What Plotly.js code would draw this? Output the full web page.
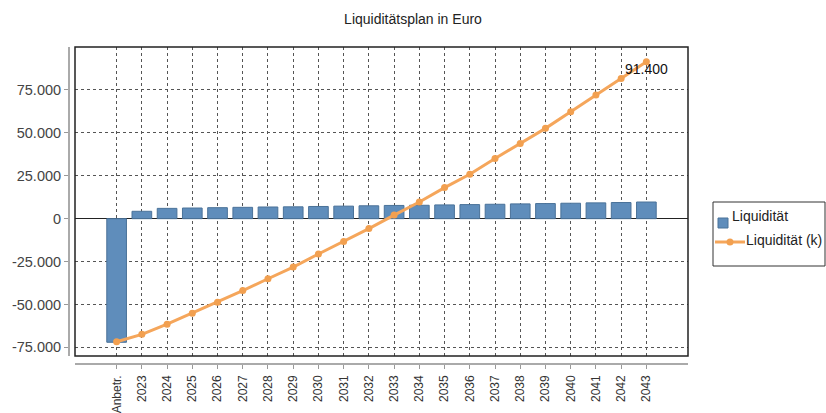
<!DOCTYPE html>
<html>
<head>
<meta charset="utf-8">
<script src="https://cdn.plot.ly/plotly-3.0.1.min.js"></script>
<style>html,body{margin:0;padding:0;background:#fff;}#chart{width:826px;height:413px;}</style>
</head>
<body>
<div id="chart"></div>
<script>
var categories = ["Anbetr.","2023","2024","2025","2026","2027","2028","2029","2030","2031","2032","2033","2034","2035","2036","2037","2038","2039","2040","2041","2042","2043"];
var liquiditaet = [-72000,4300,6000,6200,6400,6600,6800,6900,7100,7300,7500,7700,7800,8000,8200,8400,8600,8800,9000,9200,9400,9700];
var liquiditaetK = [-71700,-67400,-61500,-55100,-48700,-41900,-35000,-28200,-20600,-13300,-5800,2100,9700,18100,25900,35000,43800,52600,62300,72000,81700,91400];
var yTickVals = [-75000,-50000,-25000,0,25000,50000,75000];
var yTickText = ["-75.000","-50.000","-25.000","0","25.000","50.000","75.000"];
var seriesNames = ["Liquidität","Liquidität (k)"];
var lastLabel = "91.400";

var font = "Liberation Sans, Arial, sans-serif";
var barColor = "#5F8DBB", lineColor = "#F5A65B";
var xDom0 = (75-68)/620;
var yDom0 = (363-356)/316;
function px(x){ return (x-68)/620; }
function py(y){ return (363-y)/316; }

var traces = [
  {type:"bar", name:seriesNames[0], x:categories, y:liquiditaet, width:0.78,
   marker:{color:barColor, line:{color:"#4A7299", width:1}}},
  {type:"scatter", mode:"lines+markers", name:seriesNames[1], x:categories, y:liquiditaetK,
   line:{color:lineColor, width:3}, marker:{color:"#F2A050", size:7, symbol:"circle"}}
];

var layout = {
  width:826, height:413,
  margin:{l:68, r:138, t:47, b:50, autoexpand:false},
  paper_bgcolor:"#fff", plot_bgcolor:"#fff",
  showlegend:false,
  title:{text:"Liquiditätsplan in Euro", font:{family:font, size:14, color:"#222"}, x:0.5, xref:"container", y:1-19/413, yanchor:"middle"},
  xaxis:{type:"category", domain:[xDom0,1], anchor:"free", position:0,
    range:[-1.65,22.65], showline:true, linecolor:"#aaa", linewidth:1.5,
    ticks:"outside", ticklen:4, tickcolor:"#999", tickangle:-90, ticklabelstandoff:2,
    tickfont:{family:font, size:12, color:"#333"}, automargin:false,
    showgrid:true, gridcolor:"#555", griddash:"3px,3px", gridwidth:1, fixedrange:true},
  yaxis:{domain:[yDom0,1], anchor:"free", position:0, automargin:false,
    range:[-80000,100000], tickvals:yTickVals, ticktext:yTickText,
    showline:true, linecolor:"#aaa", linewidth:1.5,
    ticks:"outside", ticklen:4, tickcolor:"#999",
    tickfont:{family:font, size:14.5, color:"#444"},
    showgrid:true, gridcolor:"#555", griddash:"3px,3px", gridwidth:1,
    zeroline:true, zerolinecolor:"#222", zerolinewidth:1.2},
  shapes:[
    {type:"rect", xref:"paper", yref:"paper", x0:xDom0, x1:1, y0:yDom0, y1:1,
     line:{color:"#222", width:1.5}, fillcolor:"rgba(0,0,0,0)", layer:"above"},
    /* legend */
    {type:"rect", xref:"paper", yref:"paper", x0:px(713), x1:px(825), y0:py(266), y1:py(202),
     line:{color:"#333", width:1}, fillcolor:"#fff"},
    {type:"rect", xref:"paper", yref:"paper", x0:px(718), x1:px(728), y0:py(228), y1:py(218),
     line:{color:"#4A7299", width:1}, fillcolor:barColor},
    {type:"line", xref:"paper", yref:"paper", x0:px(715), x1:px(745), y0:py(242), y1:py(242),
     line:{color:lineColor, width:3}},
    {type:"circle", xref:"paper", yref:"paper", x0:px(726.5), x1:px(733.5), y0:py(245.5), y1:py(238.5),
     line:{color:"#F2A050", width:0}, fillcolor:"#F2A050"}
  ],
  annotations:[
    {x:categories.length-1, y:liquiditaetK[liquiditaetK.length-1], xref:"x", yref:"y",
     text:lastLabel, showarrow:false, yshift:-7, xshift:0,
     font:{family:font, size:14, color:"#111"}},
    {x:px(731), y:py(216), xref:"paper", yref:"paper", xanchor:"left", yanchor:"middle", borderpad:0,
     text:seriesNames[0], showarrow:false, font:{family:font, size:14, color:"#222"}},
    {x:px(745), y:py(240), xref:"paper", yref:"paper", xanchor:"left", yanchor:"middle", borderpad:0,
     text:seriesNames[1], showarrow:false, font:{family:font, size:14, color:"#222"}}
  ]
};

Plotly.newPlot("chart", traces, layout, {displayModeBar:false, staticPlot:true});
</script>
</body>
</html>
